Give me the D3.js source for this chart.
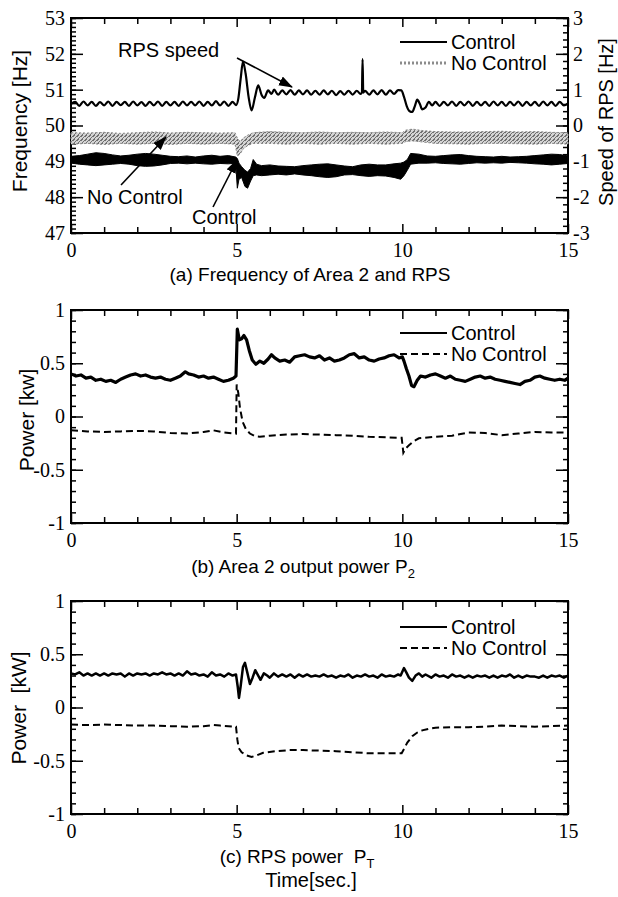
<!DOCTYPE html>
<html>
<head>
<meta charset="utf-8">
<script src="https://cdn.jsdelivr.net/npm/d3@7"></script>
<style>
  body { margin: 0; background: #fff; }
  svg { display: block; }
  .tick text { font-family: "Liberation Serif", "Times New Roman", serif; font-size: 20px; fill: #000; }
  .tick line { stroke: #000; stroke-width: 1.5; }
  .lbl { font-family: "Liberation Sans", Arial, sans-serif; fill: #000; }
</style>
</head>
<body>
<script>
/* Achsen */
const xMajor = [0, 5, 10, 15];
const xMinor = [1, 2, 3, 4, 6, 7, 8, 9, 11, 12, 13, 14];
const freqMajor = [47, 48, 49, 50, 51, 52, 53];
const speedMajor = [-3, -2, -1, 0, 1, 2, 3];
const powerMajor = [-1, -0.5, 0, 0.5, 1];

/* (a) RPS speed [t, Hz] (rechte Achse) */
const rpsSpeed = [
  [0,0.60],[0.125,0.66],[0.25,0.55],[0.375,0.67],[0.5,0.56],[0.625,0.66],[0.75,0.55],[0.875,0.65],
  [1,0.56],[1.125,0.67],[1.25,0.55],[1.375,0.66],[1.5,0.57],[1.625,0.66],[1.75,0.55],[1.875,0.67],
  [2,0.56],[2.125,0.65],[2.25,0.55],[2.375,0.66],[2.5,0.56],[2.625,0.67],[2.75,0.55],[2.875,0.66],
  [3,0.56],[3.125,0.66],[3.25,0.55],[3.375,0.67],[3.5,0.56],[3.625,0.66],[3.75,0.56],[3.875,0.67],
  [4,0.55],[4.125,0.66],[4.25,0.56],[4.375,0.68],[4.5,0.56],[4.625,0.67],[4.75,0.55],[4.875,0.66],
  [4.98,0.57],[5.05,0.75],[5.12,1.3],[5.19,1.78],[5.27,1.45],[5.36,0.8],[5.45,0.42],[5.55,0.78],
  [5.65,1.12],[5.75,0.86],[5.83,0.77],[5.95,0.98],[6.05,0.88],[6.13,1.0],[6.25,0.86],[6.375,0.98],
  [6.5,0.87],[6.625,0.99],[6.75,0.86],[6.875,0.98],[7,0.87],[7.125,0.98],[7.25,0.86],[7.375,0.97],
  [7.5,0.86],[7.625,0.98],[7.75,0.87],[7.875,0.97],[8,0.85],[8.125,0.96],[8.25,0.86],[8.375,0.97],
  [8.5,0.86],[8.625,0.97],[8.74,0.88],[8.78,0.92],[8.8,1.85],[8.82,0.92],[8.875,0.97],[9,0.86],
  [9.125,0.98],[9.25,0.87],[9.375,0.99],[9.5,0.86],[9.625,0.98],[9.75,0.88],[9.875,0.99],[9.97,0.98],
  [10.05,0.8],[10.13,0.55],[10.22,0.4],[10.3,0.38],[10.38,0.55],[10.45,0.72],[10.53,0.6],[10.6,0.45],
  [10.7,0.5],[10.8,0.66],[10.9,0.56],[11,0.66],[11.125,0.55],[11.25,0.66],[11.375,0.56],[11.5,0.67],
  [11.625,0.55],[11.75,0.66],[11.875,0.56],[12,0.67],[12.125,0.55],[12.25,0.66],[12.375,0.56],[12.5,0.66],
  [12.625,0.55],[12.75,0.67],[12.875,0.56],[13,0.66],[13.125,0.55],[13.25,0.66],[13.375,0.56],[13.5,0.67],
  [13.625,0.55],[13.75,0.66],[13.875,0.56],[14,0.66],[14.125,0.55],[14.25,0.67],[14.375,0.56],[14.5,0.66],
  [14.625,0.55],[14.75,0.66],[14.875,0.56],[15,0.62]
];

/* (a) Frequenz Area 2, Control: [t, unten, oben] */
const freqControl = [
  [0,48.95,49.14],[0.25,48.92,49.16],[0.5,48.9,49.2],[0.75,48.88,49.24],[1,48.9,49.22],[1.25,48.92,49.18],
  [1.5,48.94,49.15],[1.75,48.92,49.17],[2,48.88,49.2],[2.25,48.86,49.22],[2.5,48.87,49.2],[2.75,48.9,49.17],
  [3,48.94,49.14],[3.25,48.95,49.13],[3.5,48.93,49.15],[3.75,48.95,49.12],[4,48.93,49.15],[4.25,48.92,49.17],
  [4.5,48.94,49.14],[4.75,48.93,49.16],[4.97,48.95,49.12],[5.02,48.25,49.08],[5.07,48.5,48.95],[5.15,48.55,48.85],
  [5.25,48.3,48.75],[5.33,48.25,48.7],[5.42,48.45,48.8],[5.5,48.6,49.05],[5.6,48.62,48.92],[5.75,48.6,48.88],
  [6,48.62,48.9],[6.25,48.64,48.87],[6.5,48.62,48.86],[6.75,48.65,48.85],[7,48.62,48.88],[7.25,48.6,48.9],
  [7.5,48.57,48.92],[7.75,48.55,48.93],[8,48.57,48.9],[8.25,48.62,48.87],[8.5,48.63,48.85],[8.75,48.6,48.9],
  [9,48.58,48.92],[9.25,48.6,48.9],[9.5,48.59,48.9],[9.75,48.55,48.93],[9.95,48.5,48.95],[10.05,48.6,48.98],
  [10.15,48.75,49.05],[10.25,48.92,49.22],[10.5,48.95,49.2],[10.75,48.95,49.15],[11,48.96,49.14],[11.25,48.94,49.16],
  [11.5,48.93,49.18],[11.75,48.92,49.19],[12,48.94,49.16],[12.25,48.96,49.14],[12.5,48.95,49.13],[12.75,48.96,49.12],
  [13,48.95,49.14],[13.25,48.97,49.12],[13.5,48.96,49.13],[13.75,48.95,49.14],[14,48.93,49.16],[14.25,48.92,49.18],
  [14.5,48.9,49.2],[14.75,48.92,49.19],[15,48.94,49.15]
];

/* (a) Frequenz Area 2, No Control: [t, unten, oben] */
const freqNoControl = [
  [0,49.48,49.8],[0.5,49.5,49.79],[1,49.47,49.81],[1.5,49.5,49.78],[2,49.48,49.8],[2.5,49.5,49.82],
  [3,49.47,49.79],[3.5,49.5,49.81],[4,49.48,49.8],[4.5,49.5,49.79],[4.95,49.48,49.8],[5.02,49.15,49.65],
  [5.1,49.2,49.55],[5.2,49.35,49.65],[5.35,49.45,49.74],[5.5,49.5,49.8],[6,49.5,49.83],[6.5,49.48,49.81],
  [7,49.5,49.8],[7.5,49.48,49.82],[8,49.5,49.8],[8.5,49.48,49.81],[9,49.5,49.8],[9.5,49.48,49.82],
  [10,49.5,49.8],[10.1,49.55,49.87],[10.3,49.57,49.9],[10.6,49.54,49.86],[11,49.5,49.83],[11.5,49.49,49.82],
  [12,49.48,49.82],[12.5,49.5,49.83],[13,49.5,49.84],[13.5,49.49,49.82],[14,49.48,49.83],[14.5,49.5,49.81],
  [15,49.48,49.8]
];

/* (b) Area 2 output power P2 [t, kW] */
const p2Control = [
  [0,0.40],[0.15,0.38],[0.3,0.39],[0.45,0.36],[0.6,0.37],[0.75,0.34],[0.9,0.35],[1.05,0.33],[1.2,0.34],
  [1.35,0.32],[1.5,0.35],[1.65,0.37],[1.8,0.39],[1.95,0.40],[2.1,0.38],[2.25,0.39],[2.4,0.37],[2.55,0.36],
  [2.7,0.37],[2.85,0.35],[3,0.34],[3.15,0.36],[3.3,0.38],[3.45,0.42],[3.55,0.40],[3.7,0.39],[3.85,0.37],
  [4,0.38],[4.15,0.36],[4.3,0.37],[4.45,0.35],[4.6,0.33],[4.75,0.34],[4.9,0.36],[4.98,0.38],[5.02,0.82],
  [5.08,0.72],[5.15,0.73],[5.22,0.76],[5.3,0.72],[5.38,0.62],[5.47,0.53],[5.58,0.49],[5.7,0.52],[5.82,0.50],
  [5.95,0.54],[6.05,0.58],[6.15,0.55],[6.3,0.52],[6.45,0.53],[6.6,0.51],[6.75,0.56],[6.9,0.57],[7.05,0.58],
  [7.2,0.56],[7.35,0.55],[7.5,0.57],[7.65,0.53],[7.8,0.55],[7.95,0.52],[8.1,0.53],[8.25,0.55],[8.4,0.58],
  [8.55,0.59],[8.7,0.55],[8.85,0.56],[9,0.53],[9.15,0.52],[9.3,0.54],[9.45,0.55],[9.6,0.57],[9.75,0.58],
  [9.9,0.55],[10,0.56],[10.05,0.52],[10.12,0.45],[10.2,0.38],[10.28,0.29],[10.35,0.28],[10.45,0.34],
  [10.55,0.38],[10.7,0.37],[10.85,0.39],[11,0.40],[11.15,0.38],[11.3,0.36],[11.45,0.38],[11.6,0.35],
  [11.75,0.34],[11.9,0.33],[12.05,0.35],[12.2,0.37],[12.35,0.38],[12.5,0.36],[12.65,0.37],[12.8,0.35],
  [12.95,0.34],[13.1,0.33],[13.25,0.32],[13.4,0.31],[13.55,0.30],[13.7,0.33],[13.85,0.34],[14,0.37],
  [14.15,0.38],[14.3,0.36],[14.45,0.35],[14.6,0.34],[14.75,0.35],[14.9,0.34],[15,0.36]
];
const p2NoControl = [
  [0,-0.13],[0.5,-0.14],[1,-0.145],[1.5,-0.14],[2,-0.135],[2.5,-0.14],[3,-0.155],[3.5,-0.16],[4,-0.145],
  [4.3,-0.13],[4.6,-0.15],[4.98,-0.16],[5,0.30],[5.05,0.22],[5.1,0.08],[5.18,-0.05],[5.28,-0.12],[5.4,-0.16],
  [5.55,-0.185],[5.7,-0.19],[6,-0.18],[6.5,-0.17],[7,-0.165],[7.5,-0.17],[8,-0.175],[8.5,-0.18],[9,-0.19],
  [9.5,-0.195],[9.98,-0.2],[10.03,-0.34],[10.1,-0.3],[10.2,-0.27],[10.35,-0.23],[10.5,-0.205],[11,-0.19],
  [11.5,-0.18],[12,-0.15],[12.5,-0.155],[13,-0.175],[13.5,-0.16],[14,-0.145],[14.5,-0.15],[15,-0.15]
];

/* (c) RPS power PT [t, kW] */
const ptControl = [
  [0,0.32],[0.125,0.31],[0.25,0.33],[0.375,0.30],[0.5,0.32],[0.625,0.30],[0.75,0.32],[0.875,0.30],
  [1,0.32],[1.125,0.30],[1.25,0.32],[1.375,0.31],[1.5,0.32],[1.625,0.29],[1.75,0.32],[1.875,0.30],
  [2,0.32],[2.125,0.31],[2.25,0.32],[2.375,0.30],[2.5,0.32],[2.625,0.31],[2.75,0.33],[2.875,0.31],
  [3,0.32],[3.125,0.30],[3.25,0.32],[3.375,0.30],[3.5,0.34],[3.625,0.31],[3.75,0.32],[3.875,0.30],
  [4,0.31],[4.125,0.29],[4.25,0.33],[4.375,0.30],[4.5,0.31],[4.625,0.29],[4.75,0.32],[4.875,0.30],
  [4.98,0.31],[5.03,0.2],[5.07,0.09],[5.12,0.2],[5.19,0.38],[5.25,0.42],[5.32,0.33],[5.4,0.22],
  [5.48,0.28],[5.56,0.35],[5.65,0.3],[5.72,0.26],[5.82,0.32],[5.92,0.3],[6,0.28],[6.125,0.32],
  [6.25,0.29],[6.375,0.31],[6.5,0.29],[6.625,0.31],[6.75,0.28],[6.875,0.31],[7,0.29],[7.125,0.31],
  [7.25,0.29],[7.375,0.30],[7.5,0.29],[7.625,0.31],[7.75,0.29],[7.875,0.30],[8,0.28],[8.125,0.30],
  [8.25,0.29],[8.375,0.31],[8.5,0.28],[8.625,0.30],[8.75,0.29],[8.875,0.31],[9,0.29],[9.125,0.30],
  [9.25,0.28],[9.375,0.31],[9.5,0.29],[9.625,0.30],[9.75,0.29],[9.875,0.31],[9.95,0.30],[10.05,0.37],
  [10.12,0.33],[10.2,0.28],[10.3,0.25],[10.4,0.30],[10.5,0.32],[10.6,0.29],[10.7,0.31],[10.875,0.28],
  [11,0.31],[11.125,0.29],[11.25,0.30],[11.375,0.28],[11.5,0.31],[11.625,0.29],[11.75,0.30],[11.875,0.28],
  [12,0.30],[12.125,0.28],[12.25,0.30],[12.375,0.29],[12.5,0.30],[12.625,0.28],[12.75,0.30],[12.875,0.28],
  [13,0.30],[13.125,0.29],[13.25,0.31],[13.375,0.28],[13.5,0.30],[13.625,0.28],[13.75,0.30],[13.875,0.29],
  [14,0.29],[14.125,0.28],[14.25,0.30],[14.375,0.28],[14.5,0.30],[14.625,0.29],[14.75,0.30],[14.875,0.28],
  [15,0.30]
];
const ptNoControl = [
  [0,-0.16],[0.5,-0.165],[1,-0.16],[1.5,-0.165],[2,-0.17],[2.5,-0.17],[3,-0.175],[3.5,-0.18],[4,-0.175],
  [4.3,-0.165],[4.5,-0.17],[4.98,-0.18],[5.02,-0.3],[5.06,-0.38],[5.15,-0.42],[5.3,-0.45],[5.45,-0.465],
  [5.6,-0.45],[5.8,-0.425],[6.2,-0.41],[6.6,-0.4],[7,-0.4],[7.5,-0.405],[8,-0.41],[8.5,-0.42],[9,-0.43],
  [9.5,-0.43],[9.98,-0.43],[10.05,-0.39],[10.15,-0.33],[10.3,-0.27],[10.45,-0.235],[10.6,-0.215],
  [10.8,-0.2],[11,-0.19],[11.5,-0.185],[12,-0.185],[12.5,-0.18],[13,-0.17],[13.5,-0.175],[14,-0.18],
  [14.5,-0.175],[15,-0.17]
];

/* Layout */
const width = 618, height = 897;
const left = 71, right = 568;
const svg = d3.select("body").append("svg").attr("width", width).attr("height", height);

const defs = svg.append("defs");
defs.append("marker")
    .attr("id", "arrow")
    .attr("markerUnits", "userSpaceOnUse")
    .attr("markerWidth", 14).attr("markerHeight", 10)
    .attr("refX", 13).attr("refY", 5)
    .attr("orient", "auto")
  .append("path")
    .attr("d", "M0,0 L14,5 L0,10 Z")
    .attr("fill", "#000");

// Punktraster fuer das graue Band
const stip = defs.append("pattern")
    .attr("id", "stip")
    .attr("patternUnits", "userSpaceOnUse")
    .attr("width", 4).attr("height", 4);
stip.append("rect").attr("width", 4).attr("height", 4).attr("fill", "#d4d4d4");
[[0, 0, 2, 1], [2, 2, 1, 1], [3, 1, 1, 1], [1, 3, 2, 1]].forEach(r => {
  stip.append("rect").attr("x", r[0]).attr("y", r[1]).attr("width", r[2]).attr("height", r[3]).attr("fill", "#707070");
});

const x = d3.scaleLinear().domain([0, 15]).range([left, right]);

function ticks(g, axis) {
  g.call(axis);
  g.select(".domain").remove();
  return g;
}

function panel(top, bottom, domain, major, minor, fmt) {
  const y = d3.scaleLinear().domain(domain).range([bottom, top]);
  const g = svg.append("g");

  ticks(g.append("g").attr("transform", `translate(0,${bottom})`),
    d3.axisBottom(x).tickValues(xMinor).tickSize(-6).tickFormat(""));
  ticks(g.append("g").attr("transform", `translate(0,${bottom})`),
    d3.axisBottom(x).tickValues(xMajor).tickSize(-9).tickPadding(10).tickFormat(d => String(d)));
  ticks(g.append("g").attr("transform", `translate(0,${top})`),
    d3.axisTop(x).tickValues(xMinor).tickSize(-6).tickFormat(""));
  ticks(g.append("g").attr("transform", `translate(0,${top})`),
    d3.axisTop(x).tickValues(xMajor).tickSize(-9).tickFormat(""));

  ticks(g.append("g").attr("transform", `translate(${left},0)`),
    d3.axisLeft(y).tickValues(minor).tickSize(-5).tickFormat(""));
  ticks(g.append("g").attr("transform", `translate(${left},0)`),
    d3.axisLeft(y).tickValues(major).tickSize(-12).tickPadding(6).tickFormat(fmt));

  g.append("rect")
    .attr("x", left).attr("y", top)
    .attr("width", right - left).attr("height", bottom - top)
    .attr("fill", "none").attr("stroke", "#000").attr("stroke-width", 2);
  return { y: y, g: g };
}

function rightTicks(g, y, major, minor, fmt) {
  ticks(g.append("g").attr("transform", `translate(${right},0)`),
    d3.axisRight(y).tickValues(minor).tickSize(-5).tickFormat(""));
  ticks(g.append("g").attr("transform", `translate(${right},0)`),
    d3.axisRight(y).tickValues(major).tickSize(-12).tickPadding(5).tickFormat(fmt));
}

function label(txt, px, py, size, anchor) {
  return svg.append("text").attr("class", "lbl")
    .attr("x", px).attr("y", py)
    .attr("font-size", size)
    .attr("text-anchor", anchor || "start")
    .text(txt);
}

function vlabel(txt, px, py, size) {
  svg.append("text").attr("class", "lbl")
    .attr("transform", `translate(${px},${py}) rotate(-90)`)
    .attr("dy", "0.35em")
    .attr("font-size", size)
    .attr("text-anchor", "middle")
    .text(txt);
}

function legend(y0, grey) {
  svg.append("line").attr("x1", 400).attr("x2", 447).attr("y1", y0).attr("y2", y0)
    .attr("stroke", "#000").attr("stroke-width", 2);
  label("Control", 451, y0 + 7, 20);
  const l = svg.append("line").attr("x1", 400).attr("x2", 447).attr("y1", y0 + 21).attr("y2", y0 + 21);
  if (grey) l.attr("stroke", "#8c8c8c").attr("stroke-width", 3).attr("stroke-dasharray", "2,2");
  else l.attr("stroke", "#000").attr("stroke-width", 2).attr("stroke-dasharray", "7,4");
  label("No Control", 451, y0 + 28, 20);
}

function arrow(x1, y1, x2, y2) {
  svg.append("line")
    .attr("x1", x1).attr("y1", y1).attr("x2", x2).attr("y2", y2)
    .attr("stroke", "#000").attr("stroke-width", 1.6)
    .attr("marker-end", "url(#arrow)");
}

/* (a) */
const pa = panel(18, 233, [47, 53], freqMajor, d3.range(47, 53.01, 0.125).map(v => +v.toFixed(3)), d => String(d));
const yR = d3.scaleLinear().domain([-3, 3]).range([233, 18]);
rightTicks(pa.g, yR, speedMajor, d3.range(-3, 3.01, 0.2).map(v => +v.toFixed(2)), d => String(d));

const band = y => d3.area().x(d => x(d[0])).y0(d => y(d[1])).y1(d => y(d[2]));

pa.g.append("path").datum(freqNoControl)
  .attr("d", band(pa.y))
  .attr("fill", "url(#stip)")
  .attr("stroke", "#8a8a8a").attr("stroke-width", 1).attr("stroke-dasharray", "2,2");
pa.g.append("path").datum(freqControl)
  .attr("d", band(pa.y))
  .attr("fill", "#000").attr("stroke", "#000").attr("stroke-width", 1);
pa.g.append("path").datum(rpsSpeed)
  .attr("d", d3.line().curve(d3.curveMonotoneX).x(d => x(d[0])).y(d => yR(d[1])))
  .attr("fill", "none").attr("stroke", "#000").attr("stroke-width", 2.2);

legend(42, true);
label("RPS speed", 118, 57, 20);
arrow(237, 58, 292, 87);
label("No Control", 87, 204, 20);
arrow(121, 185, 166, 137);
label("Control", 192, 224, 20);
arrow(213, 207, 237, 160);

vlabel("Frequency [Hz]", 20, 121, 21);
vlabel("Speed of RPS [Hz]", 606, 122, 20);
label("(a) Frequency of Area 2 and RPS", 310, 281, 19, "middle");

/* (b) */
const powMinor = d3.range(-1, 1.01, 0.1).map(v => +v.toFixed(2));
const pb = panel(310, 523, [-1, 1], powerMajor, powMinor, d => String(d));
rightTicks(pb.g, pb.y, powerMajor, powMinor, "");
pb.g.append("path").datum(p2NoControl)
  .attr("d", d3.line().x(d => x(d[0])).y(d => pb.y(d[1])))
  .attr("fill", "none").attr("stroke", "#000").attr("stroke-width", 2).attr("stroke-dasharray", "7,4");
pb.g.append("path").datum(p2Control)
  .attr("d", d3.line().x(d => x(d[0])).y(d => pb.y(d[1])))
  .attr("fill", "none").attr("stroke", "#000").attr("stroke-width", 3.2).attr("stroke-linejoin", "round");
legend(333, false);
vlabel("Power [kw]", 27, 420, 21);
const cb = label("(b) Area 2 output power P", 303, 573, 19, "middle");
cb.append("tspan").attr("dy", 5).attr("font-size", 13).text("2");

/* (c) */
const pc = panel(601, 814, [-1, 1], powerMajor, powMinor, d => String(d));
rightTicks(pc.g, pc.y, powerMajor, powMinor, "");
pc.g.append("path").datum(ptNoControl)
  .attr("d", d3.line().x(d => x(d[0])).y(d => pc.y(d[1])))
  .attr("fill", "none").attr("stroke", "#000").attr("stroke-width", 2).attr("stroke-dasharray", "7,4");
pc.g.append("path").datum(ptControl)
  .attr("d", d3.line().x(d => x(d[0])).y(d => pc.y(d[1])))
  .attr("fill", "none").attr("stroke", "#000").attr("stroke-width", 2.5).attr("stroke-linejoin", "round");
legend(627, false);
vlabel("Power\u00a0\u00a0[kW]", 19, 708, 21);
const cc = label("(c) RPS power\u00a0\u00a0P", 297, 863, 19, "middle");
cc.append("tspan").attr("dy", 5).attr("font-size", 13).text("T");
label("Time[sec.]", 311, 887, 20, "middle");
</script>
</body>
</html>
